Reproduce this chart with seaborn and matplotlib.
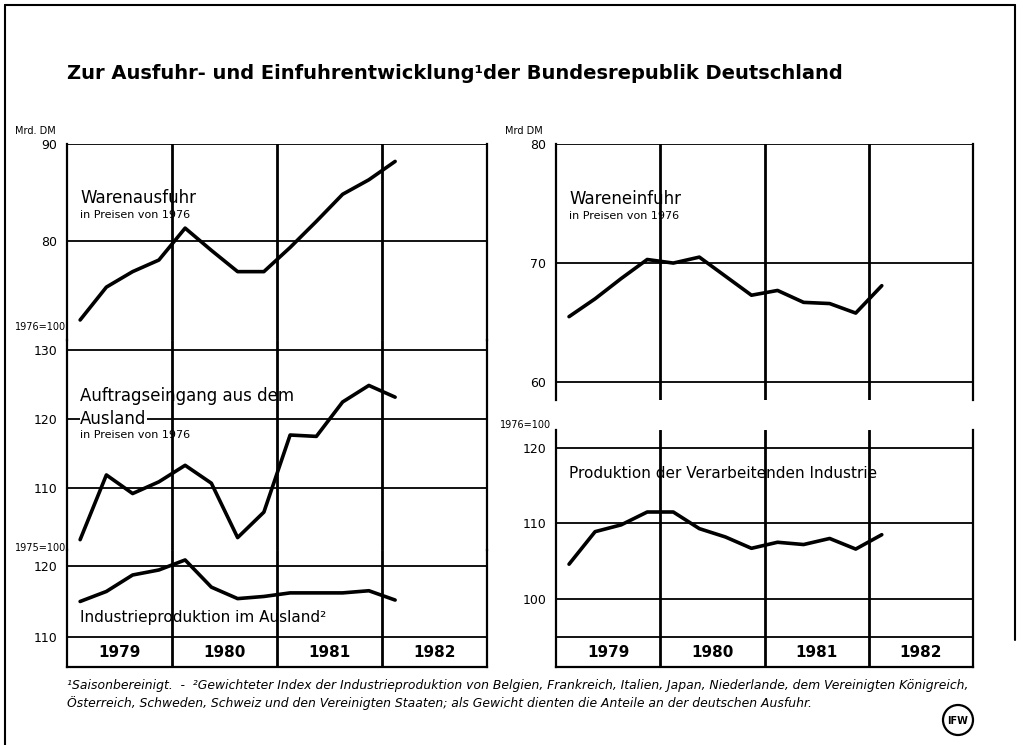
import matplotlib.pyplot as plt
import matplotlib.patches as mpatches
from matplotlib.lines import Line2D
import seaborn as sns
import pandas as pd

# quarterly values, Q1 1979 .. Q1 1982
quarters = ["79/1", "79/2", "79/3", "79/4", "80/1", "80/2", "80/3", "80/4",
            "81/1", "81/2", "81/3", "81/4", "82/1"]
ausfuhr = [71.8, 75.2, 76.8, 78.0, 81.3, 79.0, 76.8, 76.8, 79.3, 82.0, 84.8, 86.3, 88.2]
auftrag = [102.5, 111.9, 109.2, 110.9, 113.3, 110.7, 102.8, 106.5, 117.7, 117.5, 122.5, 124.9, 123.2]
ind_ausland = [115.0, 116.4, 118.7, 119.4, 120.8, 117.0, 115.4, 115.7, 116.2, 116.2, 116.2, 116.5, 115.2]
einfuhr = [65.5, 67.0, 68.7, 70.3, 70.0, 70.5, 68.9, 67.3, 67.7, 66.7, 66.6, 65.8, 68.1]
produktion = [104.6, 108.9, 109.8, 111.5, 111.5, 109.3, 108.2, 106.7, 107.5, 107.2, 108.0, 106.6, 108.5]
years = ["1979", "1980", "1981", "1982"]

df = pd.DataFrame({"quarter": quarters, "ausfuhr": ausfuhr, "auftrag": auftrag,
                   "ind_ausland": ind_ausland, "einfuhr": einfuhr, "produktion": produktion})
df["pos"] = df.index + 0.5

sns.set_theme(style="white")
plt.rcParams["font.family"] = ["DejaVu Sans"]

W, H = 1029, 745
fig = plt.figure(figsize=(W / 100, H / 100), dpi=100)


def rect(x0, y0, x1, y1):
    return [x0 / W, 1 - y1 / H, (x1 - x0) / W, (y1 - y0) / H]


def ftext(x, y, s, **kw):
    fig.text(x / W, 1 - y / H, s, color="black", **kw)


def panel(r, col, ylim, ticks, bottom=False, extra=()):
    ax = fig.add_axes(r)
    ax.patch.set_alpha(0)
    for t in list(ticks) + list(extra):
        ax.axhline(t, color="black", lw=1.3, zorder=1)
    for b in (4, 8, 12):
        ax.axvline(b, color="black", lw=2.0, zorder=1)
    sns.lineplot(data=df, x="pos", y=col, ax=ax, color="black", lw=2.6, zorder=3)
    ax.set_xlim(0, 16)
    ax.set_ylim(*ylim)
    ax.set_xticks([])
    ax.set_yticks(ticks)
    ax.tick_params(axis="y", length=0, pad=7, labelsize=9, labelcolor="black")
    ax.set_xlabel("")
    ax.set_ylabel("")
    for s in ("left", "right", "top", "bottom"):
        ax.spines[s].set_color("black")
        ax.spines[s].set_linewidth(1.6)
    ax.spines["top"].set_visible(False)
    ax.spines["bottom"].set_visible(bottom)
    return ax


# left column
axA = panel(rect(67, 144, 487, 340), "ausfuhr", (69.73, 90), [80, 90])
axB = panel(rect(67, 340, 487, 550), "auftrag", (101.0, 131.5), [110, 120, 130])
axC = panel(rect(67, 550, 487, 667), "ind_ausland", (105.85, 122.19), [110, 120], bottom=True)
# right column
axD = panel(rect(556, 144, 973, 400), "einfuhr", (58.5, 80), [60, 70, 80])
axE = panel(rect(556, 430, 973, 667), "produktion", (91.01, 122.34), [100, 110, 120],
            bottom=True, extra=[94.94])

for ax, ymid in ((axC, 107.93), (axE, 92.98)):
    for i, y in enumerate(years):
        ax.text(4 * i + 2, ymid, y, ha="center", va="center", fontsize=11,
                fontweight="bold", color="black")

# series labels
axA.text(0.5, 83.9, "Warenausfuhr", fontsize=12, color="black")
axA.text(0.5, 82.3, "in Preisen von 1976", fontsize=8, color="black")
axB.text(0.5, 122.7, "Auftragseingang aus dem", fontsize=12, color="black")
axB.text(0.5, 120.0, "Ausland", fontsize=12, color="black", va="center",
         bbox=dict(facecolor="white", edgecolor="none", pad=0.3))
axB.text(0.5, 117.2, "in Preisen von 1976", fontsize=8, color="black")
axC.text(0.5, 112.2, "Industrieproduktion im Ausland²", fontsize=11, color="black")
axD.text(0.5, 75.0, "Wareneinfuhr", fontsize=12, color="black")
axD.text(0.5, 73.7, "in Preisen von 1976", fontsize=8, color="black")
axE.text(0.5, 116.0, "Produktion der Verarbeitenden Industrie", fontsize=11, color="black")

# unit labels
ftext(15, 131, "Mrd. DM", fontsize=7, va="center")
ftext(15, 327, "1976=100", fontsize=7, va="center")
ftext(15, 548, "1975=100", fontsize=7, va="center")
ftext(505, 131, "Mrd DM", fontsize=7, va="center")
ftext(500, 425, "1976=100", fontsize=7, va="center")

# title
ftext(67, 79, "Zur Ausfuhr- und Einfuhrentwicklung¹der Bundesrepublik Deutschland",
      fontsize=14, fontweight="bold", va="baseline")

# footnotes
ftext(67, 689, "¹Saisonbereinigt.  -  ²Gewichteter Index der Industrieproduktion von Belgien, "
      "Frankreich, Italien, Japan, Niederlande, dem Vereinigten Königreich,",
      fontsize=8.9, style="italic", va="baseline")
ftext(67, 707, "Österreich, Schweden, Schweiz und den Vereinigten Staaten; als Gewicht "
      "dienten die Anteile an der deutschen Ausfuhr.",
      fontsize=8.9, style="italic", va="baseline")

# logo
fig.add_artist(mpatches.Ellipse((958 / W, 1 - 720 / H), 30 / W, 30 / H,
                                transform=fig.transFigure, fill=False, lw=1.6, color="black"))
ftext(958, 721, "IFW", fontsize=7, fontweight="bold", ha="center", va="center")

# page frame
for xs, ys in (([5, 1015], [5, 5]), ([5, 5], [5, 745]), ([1015, 1015], [5, 640])):
    fig.add_artist(Line2D([x / W for x in xs], [1 - y / H for y in ys],
                          transform=fig.transFigure, color="black", lw=1.5))

fig.savefig("out.png", dpi=100)
